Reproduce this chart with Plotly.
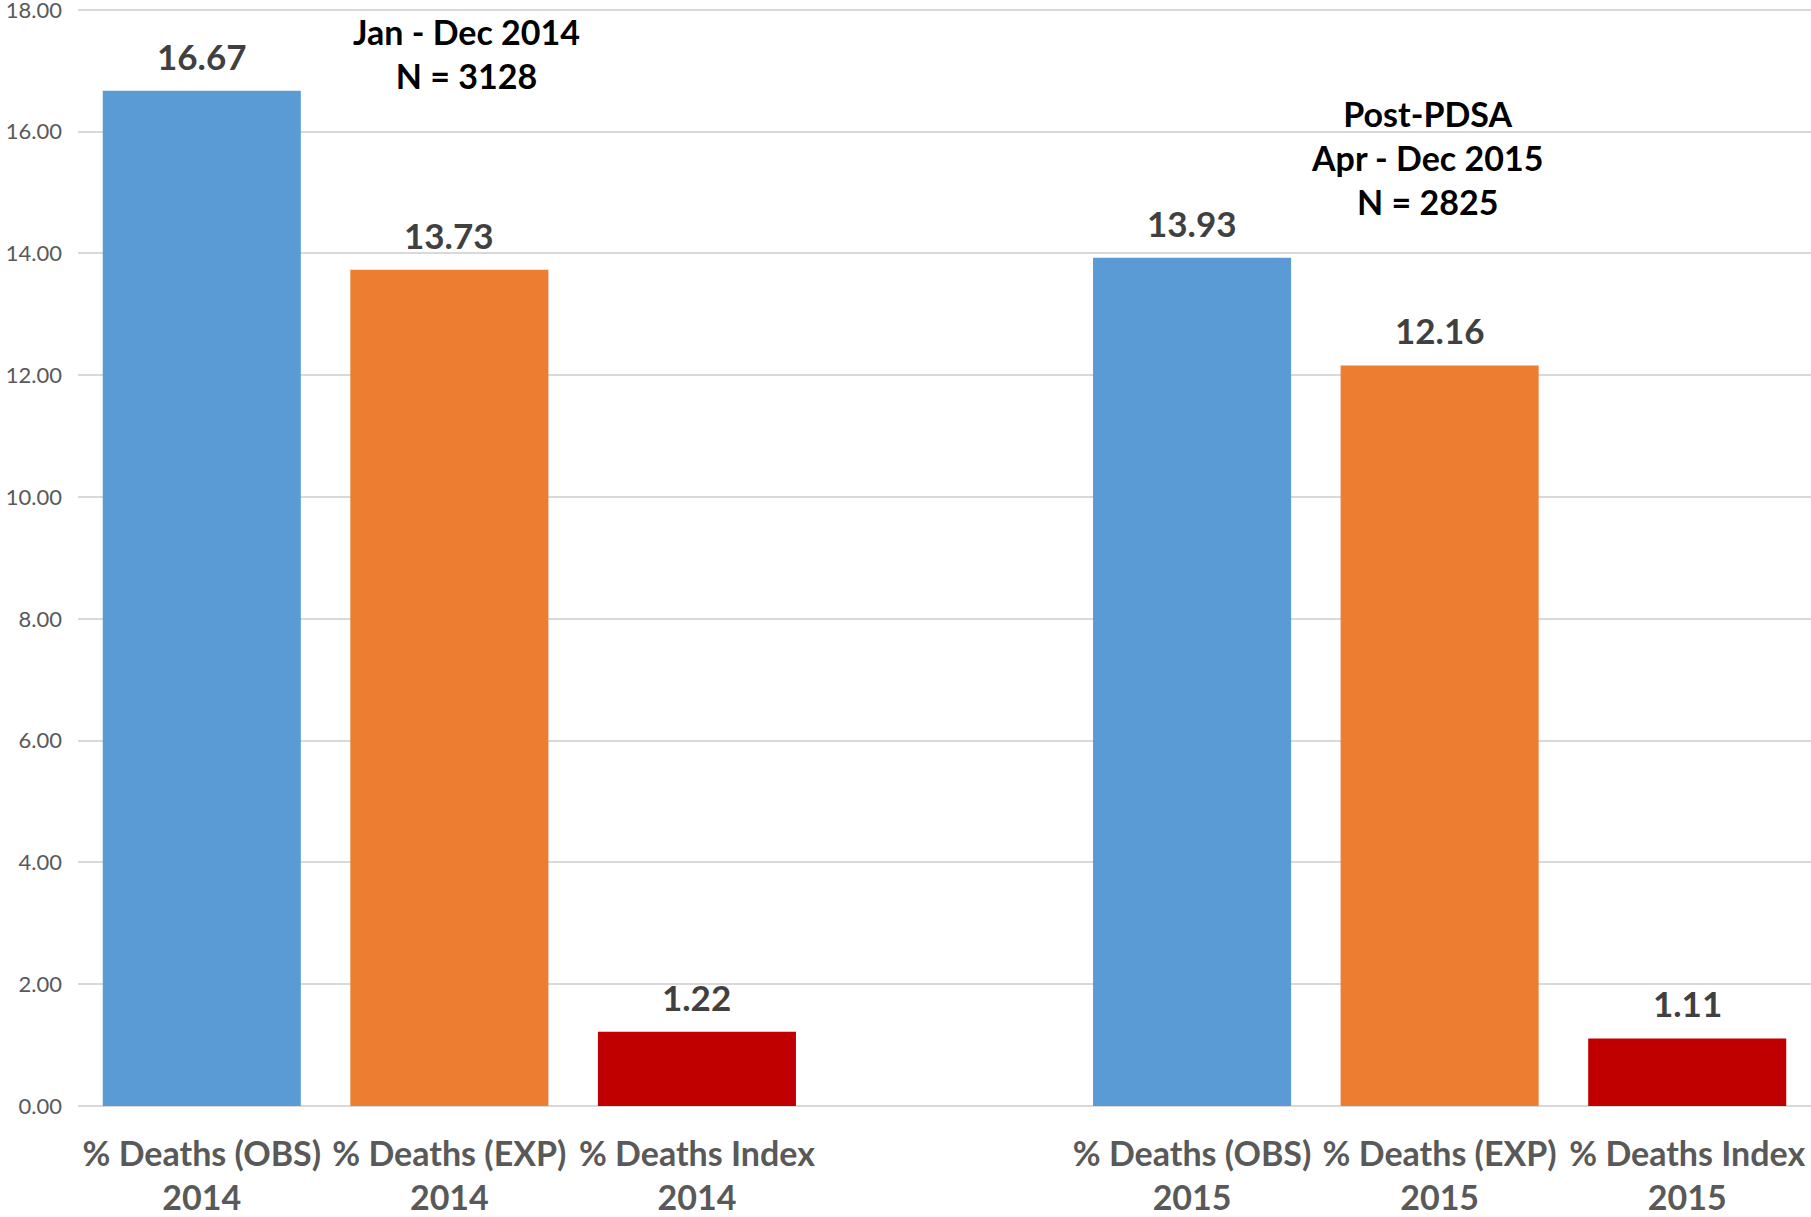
import plotly.graph_objects as go

# Categories and values
categories = ["% Deaths (OBS)<br>2014", "% Deaths (EXP)<br>2014", "% Deaths Index<br>2014",
              "% Deaths (OBS)<br>2015", "% Deaths (EXP)<br>2015", "% Deaths Index<br>2015"]
values = [16.67, 13.73, 1.22, 13.93, 12.16, 1.11]
positions = [0, 1, 2, 4, 5, 6]   # slot 3 left empty between the two periods
bar_colors = ["#5B9BD5", "#ED7D31", "#C00000", "#5B9BD5", "#ED7D31", "#C00000"]

y_ticks = [0, 2, 4, 6, 8, 10, 12, 14, 16, 18]

period_notes = [
    {"x": 1.07, "y": 18.02, "text": "Jan - Dec 2014<br>N = 3128"},
    {"x": 4.95, "y": 16.66, "text": "Post-PDSA<br>Apr - Dec 2015<br>N = 2825"},
]

FONT = "Lato, 'Open Sans', sans-serif"

fig = go.Figure()
fig.add_trace(go.Bar(
    x=positions, y=values, width=0.8,
    marker=dict(color=bar_colors, line=dict(width=0)),
    hoverinfo="skip",
))

# value labels above each bar
for xp, v in zip(positions, values):
    fig.add_annotation(x=xp, y=v, text=f"<b>{v:.2f}</b>", showarrow=False,
                       yanchor="bottom", yshift=12,
                       font=dict(family=FONT, size=35, color="#404040"))

for note in period_notes:
    fig.add_annotation(x=note["x"], y=note["y"], text=f"<b>{note['text']}</b>",
                       showarrow=False, yanchor="top", xanchor="center",
                       font=dict(family=FONT, size=34, color="#000000"))

fig.update_layout(
    width=1811, height=1217,
    margin=dict(l=78, r=0, t=8, b=111),
    paper_bgcolor="white", plot_bgcolor="white",
    showlegend=False,
    bargap=0.2,
    xaxis=dict(
        range=[-0.5, 6.5],
        tickvals=positions, ticktext=[f"<b>{c}</b>" for c in categories],
        tickfont=dict(family=FONT, size=34, color="#595959"),
        showgrid=False, zeroline=False,
        showline=False, ticks="", ticklabelstandoff=25,
        automargin=False,
    ),
    yaxis=dict(
        range=[0, 18.03], tickvals=y_ticks,
        ticktext=[f"{t:.2f}" for t in y_ticks],
        tickfont=dict(family=FONT, size=22, color="#595959"),
        showgrid=True, gridcolor="#D9D9D9", gridwidth=2,
        zeroline=True, zerolinecolor="#D9D9D9", zerolinewidth=2,
        showline=False, ticks="", ticklabelstandoff=15,
        ticklabeloverflow="allow", automargin=False,
    ),
)

fig.write_html("out.html")
